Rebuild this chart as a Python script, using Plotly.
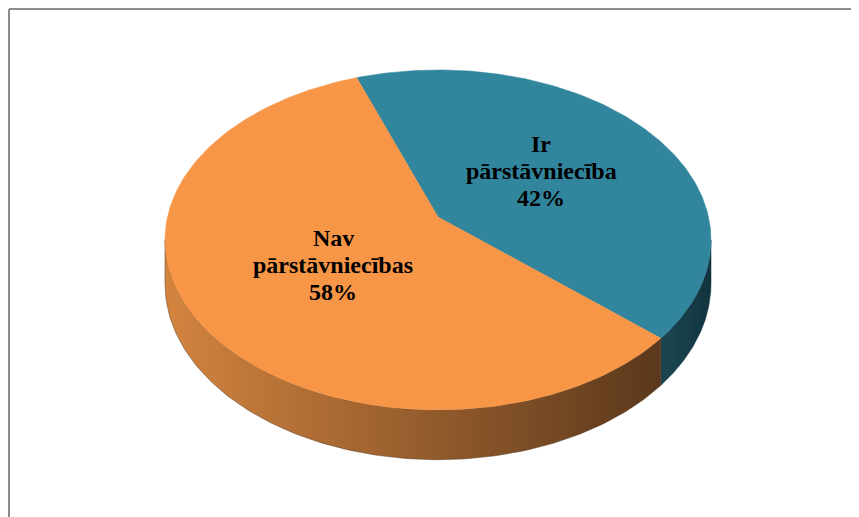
import numpy as np
import plotly.graph_objects as go

# ---- data ----
labels = ["Ir pārstāvniecība", "Nav pārstāvniecības"]
values = [42, 58]
top_colors = ["#31859C", "#F79646"]
side_colors = [["#1A4753", "#12343E"], ["#D3843F", "#5B381C"]]

# ---- geometry (pixel space) ----
X0, Y0 = 438.0, 217.0       # projected pie centre
RX, RY = 270.5, 166.9       # radii
A = 0.135                   # perspective factor
DEPTH = 43.0                # side thickness
START = -19.8               # start angle, degrees clockwise from 12 o'clock


def proj(theta_deg, r=1.0, dz=0.0):
    t = np.radians(theta_deg)
    u = r * np.sin(t)
    v = r * np.cos(t)
    s = 1.0 / (1.0 + A * v)
    return X0 + RX * u * s, Y0 - RY * v * s + dz * s


total = float(sum(values))
spans = [v / total * 360.0 for v in values]
starts = [START + sum(spans[:i]) for i in range(len(values))]

vis_lo = np.degrees(np.arctan2(np.sqrt(1 - A * A), -A))  # right silhouette
vis_hi = 360.0 - vis_lo                                   # left silhouette

fig = go.Figure()

# side walls
for i in range(len(values)):
    a0, a1 = starts[i], starts[i] + spans[i]
    for off in (-360.0, 0.0, 360.0):
        lo = max(a0 + off, vis_lo)
        hi = min(a1 + off, vis_hi)
        if hi <= lo:
            continue
        th = np.linspace(lo, hi, 120)
        xt, yt = proj(th)
        xb, yb = proj(th[::-1], dz=DEPTH)
        xs = np.concatenate([xt, xb, xt[:1]])
        ys = np.concatenate([yt, yb, yt[:1]])
        fig.add_trace(go.Scatter(
            x=xs, y=ys, mode="lines", fill="toself",
            line=dict(width=0.5, color=side_colors[i][1]),
            fillcolor=side_colors[i][1],
            fillgradient=dict(type="horizontal",
                              colorscale=[[0, side_colors[i][0]], [1, side_colors[i][1]]]),
            hoverinfo="skip", showlegend=False))

# top faces
for i in range(len(values)):
    th = np.linspace(starts[i], starts[i] + spans[i], 200)
    xe, ye = proj(th)
    xs = np.concatenate([[X0], xe, [X0]])
    ys = np.concatenate([[Y0], ye, [Y0]])
    fig.add_trace(go.Scatter(
        x=xs, y=ys, mode="lines", fill="toself",
        line=dict(width=0.5, color=top_colors[i]),
        fillcolor=top_colors[i],
        hoverinfo="skip", showlegend=False))

# labels (one annotation per line for tight line spacing)
label_pos = [(541, 171), (333, 265)]
LINE_GAP = 27
for i in range(len(values)):
    lines = labels[i].split(" ") + [f"{values[i]}%"]
    n = len(lines)
    for k, ln in enumerate(lines):
        fig.add_annotation(x=label_pos[i][0],
                           y=label_pos[i][1] + (k - (n - 1) / 2) * LINE_GAP,
                           text=f"<b>{ln}</b>", showarrow=False,
                           xref="x", yref="y", xanchor="center", yanchor="middle",
                           font=dict(family="Liberation Serif", size=24, color="#000000"))

# chart border (top and left visible)
fig.add_shape(type="line", x0=9, x1=859, y0=9, y1=9, xref="x", yref="y",
              line=dict(color="#8C8C8C", width=2))
fig.add_shape(type="line", x0=9, x1=9, y0=9, y1=517, xref="x", yref="y",
              line=dict(color="#8C8C8C", width=2))

# page body has an 8px margin: figure covers pixels 8..859 / 8..517
fig.update_layout(
    width=851, height=509,
    margin=dict(l=0, r=0, t=0, b=0),
    paper_bgcolor="white", plot_bgcolor="white",
    xaxis=dict(range=[8, 859], visible=False, fixedrange=True),
    yaxis=dict(range=[517, 8], visible=False, fixedrange=True),
)

fig.write_html("out.html")
